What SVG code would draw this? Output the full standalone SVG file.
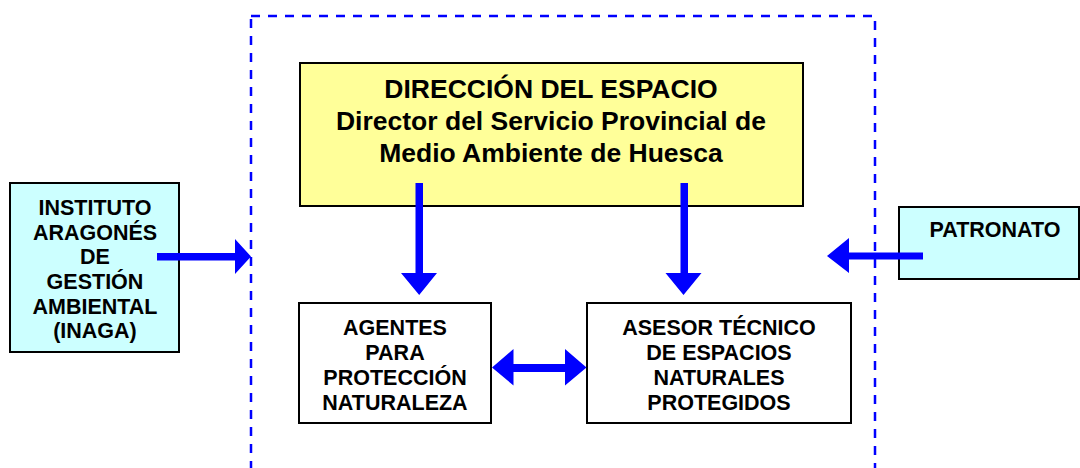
<svg xmlns="http://www.w3.org/2000/svg" width="1080" height="468" viewBox="0 0 1080 468">
<style>
.box{stroke:#000;stroke-width:2}
.t{font-family:"Liberation Sans",Arial,sans-serif;font-weight:bold;fill:#000;text-anchor:middle}
.s{font-size:21.5px}
.b{font-size:26.5px}
.arr{fill:#0000ff}
</style>
<rect width="1080" height="468" fill="#fff"/>
<rect id="frame" x="251" y="16" width="624" height="470" fill="none" stroke="#0000ff" stroke-width="2.5" stroke-dasharray="9 8"/>
<g id="direccion">
<rect class="box" x="300" y="63" width="503" height="143" fill="#ffff99"/>
<text class="t b" x="551" y="98">DIRECCIÓN DEL ESPACIO</text>
<text class="t b" x="551" y="130">Director del Servicio Provincial de</text>
<text class="t b" x="551" y="162">Medio Ambiente de Huesca</text>
</g>
<g id="inaga">
<rect class="box" x="10" y="183" width="169" height="169" fill="#ccffff"/>
<text class="t s" x="95" y="215">INSTITUTO</text>
<text class="t s" x="95" y="240">ARAGONÉS</text>
<text class="t s" x="95" y="264">DE</text>
<text class="t s" x="95" y="289">GESTIÓN</text>
<text class="t s" x="95" y="314">AMBIENTAL</text>
<text class="t s" x="95" y="338">(INAGA)</text>
</g>
<g id="patronato">
<rect class="box" x="899" y="207" width="180" height="72" fill="#ccffff"/>
<text class="t s" x="995" y="237">PATRONATO</text>
</g>
<g id="agentes">
<rect class="box" x="299" y="303" width="192" height="120" fill="#fff"/>
<text class="t s" x="395" y="335">AGENTES</text>
<text class="t s" x="395" y="360">PARA</text>
<text class="t s" x="395" y="385">PROTECCIÓN</text>
<text class="t s" x="395" y="410">NATURALEZA</text>
</g>
<g id="asesor">
<rect class="box" x="587" y="303" width="264" height="120" fill="#fff"/>
<text class="t s" x="719" y="335">ASESOR TÉCNICO</text>
<text class="t s" x="719" y="360">DE ESPACIOS</text>
<text class="t s" x="719" y="385">NATURALES</text>
<text class="t s" x="719" y="410">PROTEGIDOS</text>
</g>
<g id="connectors">
<path class="arr" d="M415.5 183 H423 V273 H437 L419.2 295 L401 273 H415.5 Z"/>
<path class="arr" d="M680.5 183 H688 V273 H701.5 L683.5 295 L665.5 273 H680.5 Z"/>
<path class="arr" d="M157 253 H235 V239 L251 256.5 L235 274 V260.5 H157 Z"/>
<path class="arr" d="M923 252.5 H849 V238 L827 256 L849 273 V259.5 H923 Z"/>
<path class="arr" d="M492 367.5 L513.5 349 V364 H565 V349 L586.5 367.5 L565 385.5 V372 H513.5 V385.5 Z"/>
</g>
</svg>
